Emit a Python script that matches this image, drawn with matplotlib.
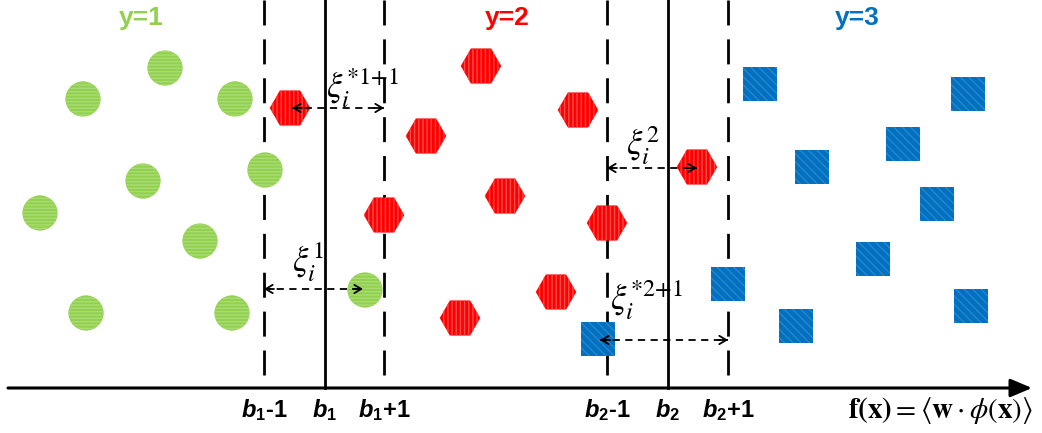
import matplotlib
matplotlib.use('Agg')
import matplotlib.pyplot as plt

plt.rcParams['mathtext.fontset'] = 'custom'
plt.rcParams['mathtext.rm'] = 'Liberation Sans:bold'
plt.rcParams['mathtext.it'] = 'Liberation Sans:bold:italic'
plt.rcParams['mathtext.bf'] = 'Liberation Sans:bold'
plt.rcParams['hatch.linewidth'] = 1.0

# --- data (pixel space of the original diagram) ---
green_x = [165, 83, 235, 265, 143, 40, 200, 365, 86, 232]
green_y = [68, 99, 99, 170, 181, 213, 241, 290, 313, 313]
red_x = [290, 481, 578, 426, 697, 384, 505, 607, 556, 460]
red_y = [108, 66, 110, 136, 167, 215, 196, 223, 292, 318]
blue_x = [760, 968, 903, 812, 937, 873, 728, 971, 796, 598]
blue_y = [84, 94, 144, 167, 204, 259, 284, 306, 326, 339]

solid_x = [325, 668]
dashed_x = [264, 384, 607, 728]
tick_x = [264, 325, 384, 607, 668, 728]
tick_labels = [r'$b_1$-1', r'$b_1$', r'$b_1$+1', r'$b_2$-1', r'$b_2$', r'$b_2$+1']

class_x = [141, 507, 857]
class_labels = ['y=1', 'y=2', 'y=3']

# slack arrows: start, end, y, label position, label
slack_x0 = [292, 607, 264, 600]
slack_x1 = [384, 697, 363, 728]
slack_y = [108, 168, 289, 340]
slack_lx = [326, 626, 292, 610]
slack_ly = [88, 146, 262, 300]
slack_labels = [r'$\xi_i^{*1{+}1}$', r'$\xi_i^{2}$', r'$\xi_i^{1}$', r'$\xi_i^{*2{+}1}$']

GREEN = '#92D050'
RED = '#FF0000'
BLUE = '#0070C0'

fig = plt.figure(figsize=(10.42, 4.33), dpi=100)
ax = fig.add_axes([0, 0, 1, 1])
ax.set_xlim(0, 1042)
ax.set_ylim(433, 0)
ax.axis('off')

axis_y = 388
for x in solid_x:
    ax.plot([x, x], [0, axis_y], color='black', lw=2, zorder=1)
for x in dashed_x:
    ax.plot([x, x], [0, axis_y], color='black', lw=2, dashes=(9, 5), zorder=1)

ax.scatter(green_x, green_y, s=640, marker='o', color=GREEN, edgecolors='#A9DC72',
           linewidths=0, hatch='-----', zorder=3)
ax.scatter(red_x, red_y, s=850, marker='H', color=RED, edgecolors='#FF4A4A',
           linewidths=0, hatch='||||', zorder=3)
ax.scatter(blue_x, blue_y, s=620, marker='s', color=BLUE, edgecolors='#2A86CC',
           linewidths=0, hatch='\\\\\\\\', zorder=3)

# horizontal axis with arrow
ax.annotate('', xy=(1032, axis_y), xytext=(8, axis_y),
            arrowprops=dict(arrowstyle='-|>,head_length=1.3,head_width=0.55',
                            color='black', lw=2.2, shrinkA=0, shrinkB=0), zorder=2)

for x, lab in zip(tick_x, tick_labels):
    ax.text(x, 410, lab, ha='center', va='center', fontsize=17,
            fontweight='bold', family='Liberation Sans')

ax.text(941, 411, r'$\mathbf{f(x)}=\left\langle\mathbf{w}\cdot\phi(\mathbf{x})\right\rangle$',
        ha='center', va='center', fontsize=21, math_fontfamily='stix')

for x, lab, c in zip(class_x, class_labels, [GREEN, RED, BLUE]):
    ax.text(x, 18, lab, ha='center', va='center', fontsize=19, fontweight='bold',
            color=c, family='Liberation Sans')

for x0, x1, y, lx, ly, lab in zip(slack_x0, slack_x1, slack_y, slack_lx, slack_ly, slack_labels):
    ax.plot([x0, x1], [y, y], color='black', lw=1.3, dashes=(4, 3), zorder=4)
    ax.annotate('', xy=(x0, y), xytext=(x0 + 10, y),
                arrowprops=dict(arrowstyle='->,head_length=0.5,head_width=0.3',
                                color='black', lw=1.3, shrinkA=0, shrinkB=0), zorder=4)
    ax.annotate('', xy=(x1, y), xytext=(x1 - 10, y),
                arrowprops=dict(arrowstyle='->,head_length=0.5,head_width=0.3',
                                color='black', lw=1.3, shrinkA=0, shrinkB=0), zorder=4)
    ax.text(lx, ly, lab, ha='left', va='center', fontsize=25, math_fontfamily='stix',
            zorder=5)

fig.savefig('out.png', dpi=100)
